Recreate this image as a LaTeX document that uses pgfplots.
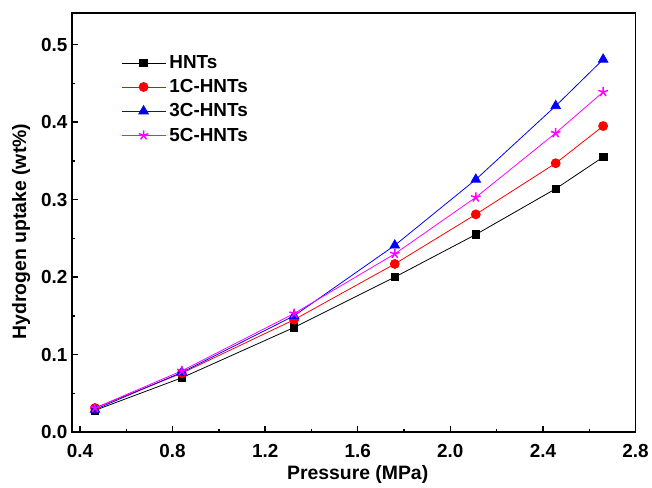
\documentclass[border=0pt]{standalone}
\usepackage{pgfplots}
\pgfplotsset{compat=1.18}
\usepackage{fontspec}
\setmainfont{Liberation Sans}
\definecolor{mag}{RGB}{255,0,255}
\begin{document}
\begin{tikzpicture}
\begin{axis}[
  scale only axis,
  width=565bp, height=420bp,
  xmin=0.365, xmax=2.8,
  ymin=0, ymax=0.541,
  xtick={0.4,0.8,1.2,1.6,2.0,2.4,2.8},
  ytick={0,0.1,0.2,0.3,0.4,0.5},
  minor x tick num=1, minor y tick num=1,
  xtick pos=left, ytick pos=left,
  tick align=inside,
  major tick length=6bp, minor tick length=3.5bp,
  every tick/.style={black, line width=1.4pt},
  axis line style={line width=1.6pt},
  /pgf/number format/assume math mode=true,
  /pgf/number format/.cd, fixed, fixed zerofill, precision=1, /pgfplots/.cd,
  tick label style={font=\bfseries\fontsize{19}{19}\selectfont},
  xticklabel style={yshift=-9bp},
  yticklabel style={xshift=-1bp},
  xlabel={\bfseries\fontsize{19.5}{19.5}\selectfont Pressure (MPa)},
  ylabel={\bfseries\fontsize{19.5}{19.5}\selectfont Hydrogen uptake (wt\%)},
  xlabel style={yshift=-1bp, xshift=4bp},
  ylabel style={yshift=4bp, xshift=-9bp},
  legend style={draw=none, fill=none, at={(0.082,0.908)}, anchor=north west,
    font=\bfseries\fontsize{19}{19}\selectfont, row sep=5.5bp,
    nodes={inner xsep=3.5bp}},
  legend cell align=left,
  legend image code/.code={\draw[mark repeat=2,mark phase=2] plot coordinates {(0bp,0bp)(22bp,0bp)(44bp,0bp)};},
]
\addplot[black, line width=0.8pt, mark=square*, mark size=3.8bp] coordinates {
(0.465,0.028) (0.84,0.070) (1.325,0.135) (1.76,0.200) (2.11,0.255) (2.455,0.314) (2.66,0.355)};
\addlegendentry{HNTs}
\addplot[red, line width=0.8pt, mark=*, mark size=4.5bp] coordinates {
(0.465,0.031) (0.84,0.076) (1.325,0.145) (1.76,0.217) (2.11,0.281) (2.455,0.347) (2.66,0.395)};
\addlegendentry{1C-HNTs}
\addplot[blue, line width=0.8pt, mark=triangle*, mark size=5.5bp] coordinates {
(0.465,0.029) (0.84,0.077) (1.325,0.150) (1.76,0.241) (2.11,0.326) (2.455,0.421) (2.66,0.481)};
\addlegendentry{3C-HNTs}
\addplot[mag, line width=0.8pt, mark=star, mark size=5bp, mark options={line width=1.5pt}] coordinates {
(0.465,0.031) (0.84,0.079) (1.325,0.153) (1.76,0.230) (2.11,0.303) (2.455,0.386) (2.66,0.439)};
\addlegendentry{5C-HNTs}
\end{axis}
\path ([xshift=-72bp,yshift=-52bp]current axis.south west) rectangle ([xshift=15bp,yshift=13bp]current axis.north east);
\end{tikzpicture}
\end{document}
